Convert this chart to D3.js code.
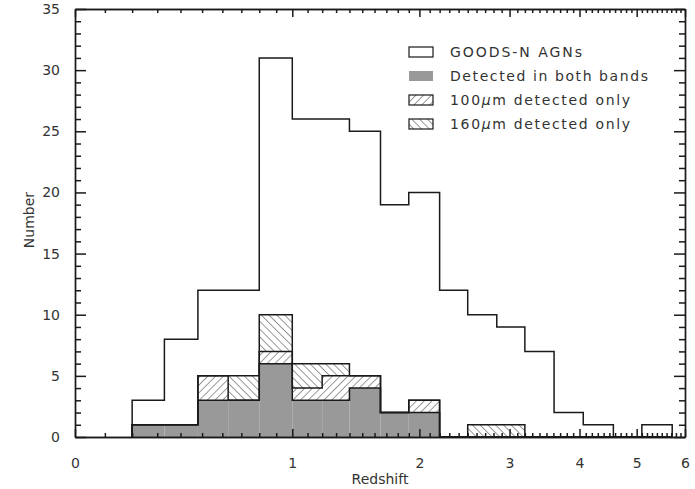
<!DOCTYPE html>
<html lang="en">
<head>
    <meta charset="UTF-8">
    <title>GOODS-N AGN redshift histogram</title>
    <script src="https://cdn.jsdelivr.net/npm/d3@7"></script>
    <style>
        body { margin: 0; background: #fff; }
        svg { display: block; }
        text { font-family: "DejaVu Sans", "Liberation Sans", sans-serif; fill: #333; }
    </style>
</head>
<body>
<script>

    // BIN EDGES (redshift) AND COUNTS
    const binEdges   = [0.2, 0.33, 0.48, 0.63, 0.8, 1.0, 1.2, 1.4, 1.65, 1.9, 2.2, 2.5, 2.84, 3.2, 3.61, 4.06, 4.57, 5.1, 5.72]
    const allAGN     = [3, 8, 12, 12, 31, 26, 26, 25, 19, 20, 12, 10, 9, 7, 2, 1, 0, 1]
    const bothBands  = [1, 1, 3, 3, 6, 3, 3, 4, 2, 2, 0, 0, 0, 0, 0, 0, 0, 0]
    const only100    = [0, 0, 2, 0, 1, 1, 2, 1, 0, 1, 0, 0, 0, 0, 0, 0, 0, 0]
    const only160    = [0, 0, 0, 2, 3, 2, 1, 0, 0, 0, 0, 1, 1, 0, 0, 0, 0, 0]

    const xMajor = [0, 1, 2, 3, 4, 5, 6]
    const yMajor = [0, 5, 10, 15, 20, 25, 30, 35]
    const legendLabels = ["GOODS-N AGNs", "Detected in both bands", "100μm detected only", "160μm detected only"]

    const W = 695, H = 489
    const pLeft = 75, pRight = 685, pTop = 9, pBottom = 437

    let svg = d3.select("body").append("svg").attr("width", W).attr("height", H)

    // SCALES (x axis is log(1+z))
    let x_log = d3.scaleLog().domain([1, 7]).range([pLeft, pRight])
    let x = z => x_log(1 + z)
    let y = d3.scaleLinear().domain([0, 35]).range([pBottom, pTop])

    // PATTERNS
    let defs = svg.append("defs")
    function hatch(id, angle) {
        defs.append("pattern")
            .attr("id", id)
            .attr("patternUnits", "userSpaceOnUse")
            .attr("width", 5.5).attr("height", 5.5)
            .attr("patternTransform", "rotate(" + angle + ")")
            .append("line")
            .attr("x1", 0).attr("y1", 0).attr("x2", 0).attr("y2", 5.5)
            .style("stroke", "#333").style("stroke-width", 1)
    }
    hatch("fwd", 45)
    hatch("back", -45)

    // STACKED ROWS
    let rows = allAGN.map((v, i) => ({
        x0: binEdges[i], x1: binEdges[i + 1],
        both: bothBands[i], h100: only100[i], h160: only160[i]
    }))
    let stack = d3.stack().keys(["both", "h100", "h160"])(rows)
    let fills = { both: "#999999", h100: "url(#fwd)", h160: "url(#back)" }

    stack.forEach(layer => {
        svg.append("g").selectAll("rect")
            .data(layer.filter(d => d[1] > d[0]))
            .join("rect")
            .attr("x", d => x(d.data.x0))
            .attr("width", d => x(d.data.x1) - x(d.data.x0))
            .attr("y", d => y(d[1]))
            .attr("height", d => y(d[0]) - y(d[1]))
            .style("fill", fills[layer.key])
    })

    // STEP OUTLINES
    let step = d3.line().x(d => x(d[0])).y(d => y(d[1])).curve(d3.curveStepAfter)
    function stepPoints(vals) {
        let pts = [[binEdges[0], 0]]
        vals.forEach((v, i) => pts.push([binEdges[i], v]))
        pts.push([binEdges[binEdges.length - 1], 0])
        return pts
    }
    let cum1 = bothBands
    let cum2 = bothBands.map((v, i) => v + only100[i])
    let cum3 = cum2.map((v, i) => v + only160[i])

    ;[cum1, cum2, cum3, allAGN].forEach(vals => {
        svg.append("path")
            .attr("d", step(stepPoints(vals)))
            .style("fill", "none")
            .style("stroke", "#1a1a1a")
            .style("stroke-width", 1.5)
    })

    // AXES
    let xMinor = d3.range(1, 60).map(i => i / 10).filter(z => xMajor.indexOf(z) < 0)
    let yMinor = d3.range(0, 36).filter(v => v % 5 != 0)

    function styleAxis(g) {
        g.attr("font-family", null).attr("font-size", null)
        g.selectAll("path.domain").style("stroke", "#1a1a1a").style("stroke-width", 1.4)
        g.selectAll(".tick line").style("stroke", "#1a1a1a").style("stroke-width", 1.5)
        g.selectAll(".tick text").style("font-size", "14px").style("fill", "#333")
    }

    svg.append("g").attr("transform", "translate(0," + pBottom + ")")
        .call(d3.axisBottom(x_log).tickValues(xMajor.map(z => 1 + z)).tickFormat(d => Math.round(d - 1))
            .tickSize(-8).tickSizeOuter(0).tickPadding(21)).call(styleAxis)
    svg.append("g").attr("transform", "translate(0," + pBottom + ")")
        .call(d3.axisBottom(x_log).tickValues(xMinor.map(z => 1 + z)).tickFormat("")
            .tickSize(-4).tickSizeOuter(0)).call(styleAxis)
    svg.append("g").attr("transform", "translate(0," + pTop + ")")
        .call(d3.axisTop(x_log).tickValues(xMajor.map(z => 1 + z)).tickFormat("")
            .tickSize(-8).tickSizeOuter(0)).call(styleAxis)
    svg.append("g").attr("transform", "translate(0," + pTop + ")")
        .call(d3.axisTop(x_log).tickValues(xMinor.map(z => 1 + z)).tickFormat("")
            .tickSize(-4).tickSizeOuter(0)).call(styleAxis)

    svg.append("g").attr("transform", "translate(" + pLeft + ",0)")
        .call(d3.axisLeft(y).tickValues(yMajor).tickSize(-11).tickSizeOuter(0).tickPadding(15)).call(styleAxis)
    svg.append("g").attr("transform", "translate(" + pLeft + ",0)")
        .call(d3.axisLeft(y).tickValues(yMinor).tickFormat("").tickSize(-6).tickSizeOuter(0)).call(styleAxis)
    svg.append("g").attr("transform", "translate(" + pRight + ",0)")
        .call(d3.axisRight(y).tickValues(yMajor).tickFormat("").tickSize(-11).tickSizeOuter(0)).call(styleAxis)
    svg.append("g").attr("transform", "translate(" + pRight + ",0)")
        .call(d3.axisRight(y).tickValues(yMinor).tickFormat("").tickSize(-6).tickSizeOuter(0)).call(styleAxis)

    // AXIS TITLES
    svg.append("text").attr("x", (pLeft + pRight) / 2).attr("y", 484)
        .attr("text-anchor", "middle").style("font-size", "14px").text("Redshift")
    svg.append("text").attr("transform", "translate(34,220) rotate(-90)")
        .attr("text-anchor", "middle").style("font-size", "14px").text("Number")

    // LEGEND
    let legendFills = ["#fff", "#999999", "url(#fwd)", "url(#back)"]
    let legendWidths = [132, 198, 180, 180]
    let legend = svg.append("g").attr("transform", "translate(409,47)")
    legendLabels.forEach((lab, i) => {
        legend.append("rect").attr("x", 0).attr("y", i * 24).attr("width", 24).attr("height", 10)
            .style("fill", legendFills[i])
            .style("stroke", i == 1 ? "none" : "#1a1a1a").style("stroke-width", 1.2)
        let t = legend.append("text").attr("x", 41).attr("y", i * 24 + 10)
            .style("font-size", "14px")
            .attr("textLength", legendWidths[i]).attr("lengthAdjust", "spacing")
        if (lab.indexOf("μ") >= 0) {
            let parts = lab.split("μ")
            t.append("tspan").text(parts[0])
            t.append("tspan").style("font-style", "italic").text("μ")
            t.append("tspan").text(parts[1])
        } else {
            t.text(lab)
        }
    })

</script>
</body>
</html>
